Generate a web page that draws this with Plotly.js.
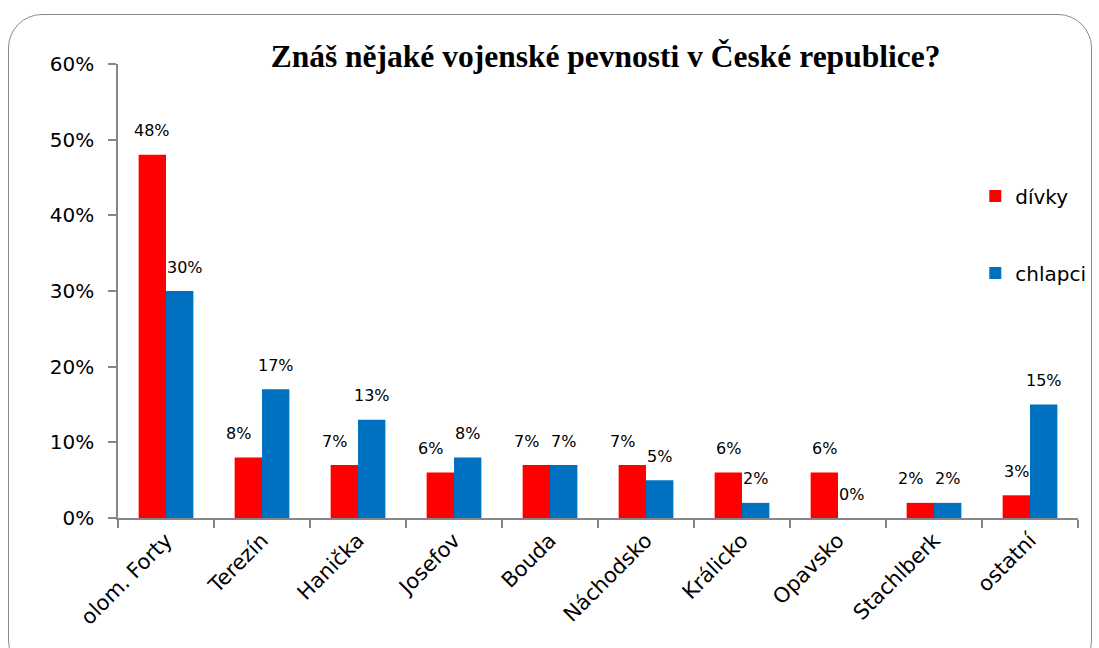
<!DOCTYPE html>
<html><head><meta charset="utf-8">
<script src="https://cdn.plot.ly/plotly-3.0.1.min.js"></script>
<style>
html,body{margin:0;padding:0;background:#fff;}
#frame{position:absolute;left:8px;top:14px;width:1084px;height:660px;border:1.5px solid #8a8a8a;border-radius:34px;box-sizing:border-box;}
#chart{position:absolute;left:0;top:0;width:1099px;height:648px;}
</style></head>
<body>
<div id="frame"></div>
<div id="chart"></div>
<script>
const categories = ["olom. Forty","Terezín","Hanička","Josefov","Bouda","Náchodsko","Králicko","Opavsko","Stachlberk","ostatní"];
const divky = [48, 8, 7, 6, 7, 7, 6, 6, 2, 3];
const chlapci = [30, 17, 13, 8, 7, 5, 2, 0, 2, 15];
const seriesNames = ["dívky","chlapci"];
const colors = ["#FF0000","#0070C0"];

const font = "DejaVu Sans, sans-serif";
const series = [divky, chlapci];
const traces = series.map((vals, i) => ({
  type: "bar",
  name: seriesNames[i],
  x: categories,
  y: vals.map(v => v / 100),
  marker: {color: colors[i]},
  legendgroup: "g" + i,
  hoverinfo: "x+y"
}));

const barHalf = 13.7;
const annotations = [];
series.forEach((vals, i) => {
  vals.forEach((v, j) => {
    let dx = (i === 0 ? -barHalf : barHalf);
    const diff = chlapci[j] - divky[j];
    if (i === 0 && diff >= -2 && diff <= 10) dx -= 10; // avoid overlapping neighbouring labels
    if (i === 1 && diff < -10) dx += 5;
    annotations.push({
      x: categories[j], y: v / 100, xref: "x", yref: "y",
      text: v + "%", showarrow: false,
      xshift: dx, yshift: 24,
      yanchor: "middle", xanchor: "center",
      font: {family: font, size: 16, color: "#000"}
    });
  });
});

const layout = {
  width: 1099, height: 648,
  paper_bgcolor: "rgba(0,0,0,0)",
  plot_bgcolor: "rgba(0,0,0,0)",
  margin: {l: 118, r: 21, t: 64, b: 130, autoexpand: false},
  title: {text: "<b>Znáš nějaké vojenské pevnosti v České republice?</b>",
          font: {family: "Liberation Serif, Times New Roman, serif", size: 31.5, color: "#000"},
          x: 0.551, xanchor: "center", y: 0.913, yanchor: "middle"},
  barmode: "group",
  bargap: 0.43, bargroupgap: 0,
  xaxis: {
    type: "category", automargin: false,
    showline: true, linecolor: "#868686", linewidth: 1.5,
    ticks: "outside", tickson: "boundaries", ticklen: 8, tickcolor: "#868686", tickwidth: 1.5,
    tickangle: -45,
    tickfont: {family: font, size: 21, color: "#000"},
    showgrid: false, zeroline: false
  },
  yaxis: {
    range: [0, 0.6], dtick: 0.1, tickformat: ".0%", automargin: false,
    showline: true, linecolor: "#868686", linewidth: 1.5,
    ticks: "outside", ticklen: 8, tickcolor: "#868686", tickwidth: 1.5,
    ticklabelstandoff: 10,
    tickfont: {family: font, size: 20, color: "#000"},
    showgrid: false, zeroline: false
  },
  legend: {
    x: 0.893, y: 0.752, xanchor: "left", yanchor: "top",
    font: {family: font, size: 20, color: "#000"},
    itemwidth: 30,
    tracegroupgap: 48, bgcolor: "rgba(0,0,0,0)"
  },
  annotations: annotations
};

Plotly.newPlot("chart", traces, layout, {displayModeBar: false});
</script>
</body></html>
